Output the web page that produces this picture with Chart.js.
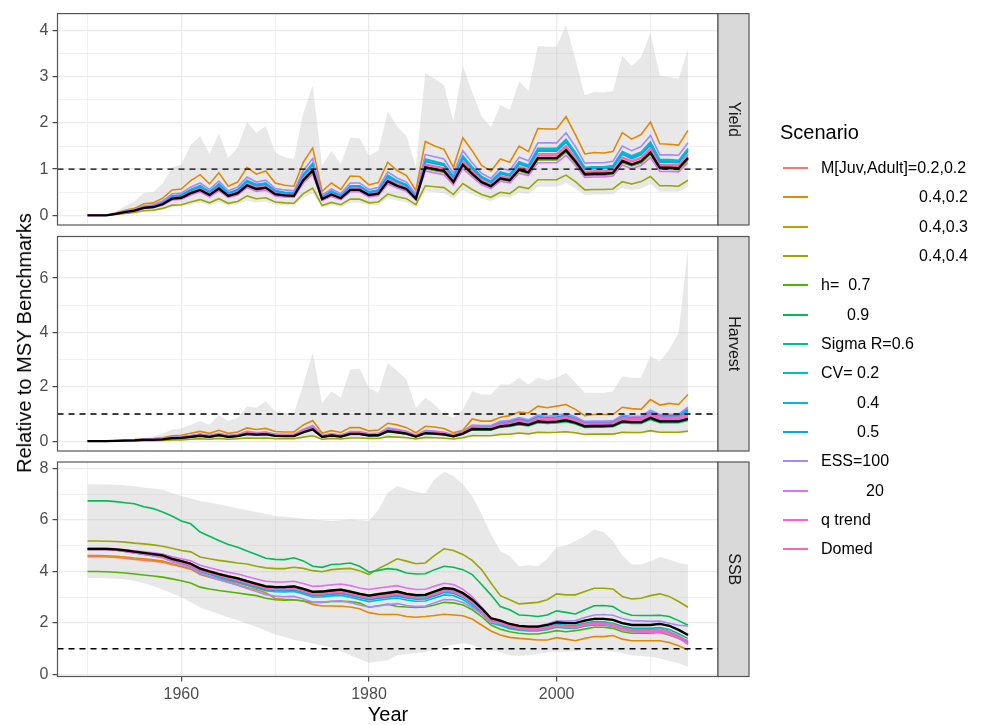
<!DOCTYPE html>
<html><head><meta charset="utf-8">
<script src="https://cdn.jsdelivr.net/npm/chart.js@4.4.1/dist/chart.umd.min.js"></script>
<style>
html,body{margin:0;padding:0;background:#fff;}
#wrap{position:relative;width:984px;height:725px;overflow:hidden;font-family:"Liberation Sans",Arial,Helvetica,sans-serif;}
canvas{position:absolute;left:0;top:0;}
.t{position:absolute;white-space:pre;line-height:1;color:#000;}
.k{position:absolute;height:2px;width:25px;left:783px;}
</style></head><body><div id="wrap">
<canvas id="cY" width="984" height="725"></canvas>
<canvas id="cH" width="984" height="725"></canvas>
<canvas id="cS" width="984" height="725"></canvas>
</div>
<script>
// ---------------- DATA ----------------
const years = Array.from({length: 65}, (_, i) => 1950 + i);
const benchmark = 1;
const xTickValues = [1950, 1960, 1970, 1980, 1990, 2000, 2010];
const xLabelValues = [1960, 1980, 2000];
const yieldTicks = [0, 0.5, 1, 1.5, 2, 2.5, 3, 3.5, 4];
const yieldLabels = [0, 1, 2, 3, 4];
const harvestTicks = [0, 1, 2, 3, 4, 5, 6, 7];
const harvestLabels = [0, 2, 4, 6];
const ssbTicks = [0, 1, 2, 3, 4, 5, 6, 7, 8];
const ssbLabels = [0, 2, 4, 6, 8];
const panelNames = ['Yield', 'Harvest', 'SSB'];
const scenarioLabels = ['M[Juv,Adult]=0.2,0.2', '0.4,0.2', '0.4,0.3', '0.4,0.4', 'h=  0.7', '0.9', 'Sigma R=0.6', 'CV= 0.2', '0.4', '0.5', 'ESS=100', '20', 'q trend', 'Domed'];

// Yield
const yieldLow = [0,0,0,0.01,0.03,0.05,0.08,0.09,0.12,0.18,0.19,0.24,0.27,0.22,0.29,0.21,0.24,0.32,0.28,0.3,0.23,0.21,0.21,0.38,0.48,0.17,0.22,0.18,0.27,0.27,0.22,0.23,0.37,0.32,0.28,0.18,0.52,0.5,0.48,0.36,0.55,0.45,0.36,0.31,0.4,0.38,0.49,0.46,0.62,0.62,0.62,0.7,0.58,0.44,0.45,0.45,0.46,0.59,0.55,0.58,0.68,0.51,0.51,0.51,0.62];
const yieldHigh = [0,0,0.01,0.08,0.2,0.3,0.49,0.5,0.69,1.04,1.1,1.52,1.72,1.33,1.77,1.24,1.47,2.02,1.79,1.93,1.36,1.26,1.22,2.21,2.82,1.08,1.4,1.11,1.68,1.67,1.29,1.4,2.25,1.93,1.72,1.04,3.08,2.96,2.82,2.04,3.24,2.67,2.14,1.9,2.39,2.28,2.9,2.7,3.67,3.65,3.65,4.13,3.38,2.6,2.67,2.66,2.69,3.45,3.24,3.42,3.95,3.03,2.99,2.96,3.6];
const yieldBase = [0,0,0,0.03,0.07,0.1,0.16,0.18,0.24,0.36,0.38,0.48,0.55,0.44,0.58,0.42,0.48,0.65,0.57,0.6,0.46,0.43,0.42,0.76,0.97,0.35,0.45,0.37,0.55,0.55,0.44,0.47,0.74,0.64,0.57,0.36,1.04,1,0.96,0.72,1.1,0.9,0.72,0.63,0.8,0.76,0.99,0.93,1.24,1.24,1.24,1.41,1.17,0.89,0.9,0.9,0.92,1.18,1.1,1.17,1.36,1.03,1.03,1.02,1.24];
const yieldM22 = [0,0,0,0.03,0.07,0.11,0.17,0.19,0.26,0.39,0.41,0.51,0.59,0.47,0.62,0.45,0.51,0.7,0.61,0.64,0.49,0.46,0.45,0.81,1.04,0.37,0.48,0.4,0.59,0.59,0.47,0.5,0.79,0.68,0.61,0.39,1.11,1.07,1.03,0.77,1.18,0.96,0.77,0.67,0.86,0.81,1.06,1,1.33,1.33,1.33,1.51,1.25,0.95,0.96,0.96,0.98,1.26,1.18,1.25,1.46,1.1,1.1,1.09,1.33];
const yieldM42 = [0,0,0,0.05,0.11,0.15,0.25,0.27,0.37,0.55,0.57,0.75,0.88,0.68,0.92,0.63,0.72,1.04,0.89,0.96,0.7,0.65,0.63,1.15,1.46,0.52,0.7,0.56,0.85,0.84,0.66,0.71,1.15,0.97,0.86,0.54,1.6,1.5,1.43,1.04,1.68,1.4,1.08,0.96,1.22,1.15,1.5,1.38,1.88,1.87,1.87,2.14,1.75,1.33,1.36,1.35,1.38,1.79,1.65,1.75,2.02,1.55,1.54,1.52,1.84];
const yieldM43 = [0,0,0,0.03,0.07,0.1,0.16,0.18,0.24,0.35,0.37,0.47,0.54,0.43,0.57,0.41,0.47,0.64,0.56,0.59,0.45,0.42,0.41,0.74,0.95,0.34,0.44,0.36,0.54,0.54,0.43,0.46,0.73,0.63,0.56,0.35,1.02,0.98,0.94,0.71,1.08,0.88,0.71,0.62,0.78,0.74,0.97,0.91,1.22,1.22,1.22,1.38,1.15,0.87,0.88,0.88,0.9,1.16,1.08,1.15,1.33,1.01,1.01,1,1.22];
const yieldM44 = [0,0,0,0.02,0.04,0.06,0.1,0.11,0.15,0.22,0.23,0.29,0.34,0.27,0.36,0.26,0.3,0.42,0.36,0.38,0.29,0.27,0.26,0.47,0.59,0.21,0.28,0.23,0.35,0.35,0.27,0.29,0.46,0.4,0.36,0.23,0.64,0.62,0.6,0.45,0.69,0.56,0.45,0.39,0.5,0.47,0.62,0.58,0.77,0.77,0.77,0.87,0.73,0.55,0.56,0.56,0.57,0.73,0.68,0.73,0.84,0.64,0.64,0.63,0.76];
const yieldH07 = [0,0,0,0.03,0.07,0.1,0.16,0.17,0.23,0.35,0.37,0.47,0.53,0.43,0.56,0.41,0.47,0.63,0.55,0.58,0.45,0.42,0.41,0.74,0.94,0.34,0.44,0.36,0.53,0.53,0.43,0.46,0.72,0.62,0.55,0.35,1.01,0.97,0.93,0.7,1.07,0.87,0.7,0.61,0.78,0.74,0.96,0.9,1.2,1.2,1.2,1.37,1.13,0.86,0.87,0.87,0.89,1.14,1.07,1.13,1.32,1,1,0.99,1.2];
const yieldH09 = [0,0,0,0.03,0.07,0.1,0.16,0.18,0.24,0.36,0.38,0.48,0.54,0.44,0.57,0.42,0.48,0.64,0.56,0.59,0.46,0.43,0.42,0.75,0.96,0.35,0.45,0.37,0.54,0.54,0.44,0.47,0.73,0.63,0.56,0.36,1.03,0.99,0.95,0.71,1.09,0.89,0.71,0.62,0.79,0.75,0.98,0.92,1.23,1.23,1.23,1.4,1.16,0.88,0.89,0.89,0.91,1.17,1.09,1.16,1.35,1.02,1.02,1.01,1.23];
const yieldSigR = [0,0,0,0.03,0.08,0.12,0.18,0.21,0.28,0.41,0.44,0.55,0.63,0.51,0.67,0.48,0.55,0.75,0.66,0.69,0.53,0.49,0.48,0.87,1.12,0.4,0.52,0.43,0.63,0.63,0.51,0.54,0.85,0.74,0.66,0.41,1.2,1.15,1.1,0.83,1.27,1.04,0.83,0.72,0.92,0.87,1.14,1.07,1.43,1.43,1.43,1.62,1.35,1.02,1.04,1.04,1.06,1.36,1.27,1.35,1.56,1.18,1.18,1.17,1.43];
const yieldCV02 = [0,0,0,0.04,0.08,0.12,0.19,0.21,0.28,0.42,0.44,0.56,0.64,0.51,0.68,0.49,0.56,0.76,0.67,0.7,0.54,0.5,0.49,0.89,1.13,0.41,0.53,0.43,0.64,0.64,0.51,0.55,0.87,0.75,0.67,0.42,1.22,1.17,1.12,0.84,1.29,1.05,0.84,0.74,0.94,0.89,1.16,1.09,1.45,1.45,1.45,1.65,1.37,1.04,1.05,1.05,1.08,1.38,1.29,1.37,1.59,1.21,1.21,1.19,1.45];
const yieldCV04 = [0,0,0,0.03,0.08,0.11,0.18,0.21,0.27,0.41,0.43,0.55,0.63,0.5,0.66,0.48,0.55,0.74,0.65,0.68,0.52,0.49,0.48,0.87,1.11,0.4,0.51,0.42,0.63,0.63,0.5,0.54,0.84,0.73,0.65,0.41,1.19,1.14,1.09,0.82,1.25,1.03,0.82,0.72,0.91,0.87,1.13,1.06,1.41,1.41,1.41,1.61,1.33,1.01,1.03,1.03,1.05,1.35,1.25,1.33,1.55,1.17,1.17,1.16,1.41];
const yieldCV05 = [0,0,0,0.03,0.08,0.11,0.18,0.2,0.27,0.4,0.43,0.54,0.62,0.49,0.65,0.47,0.54,0.73,0.64,0.67,0.52,0.48,0.47,0.85,1.09,0.39,0.5,0.41,0.62,0.62,0.49,0.53,0.83,0.72,0.64,0.4,1.16,1.12,1.08,0.81,1.23,1.01,0.81,0.71,0.9,0.85,1.11,1.04,1.39,1.39,1.39,1.58,1.31,1,1.01,1.01,1.03,1.32,1.23,1.31,1.52,1.15,1.15,1.14,1.39];
const yieldESS100 = [0,0,0,0.04,0.09,0.13,0.2,0.23,0.31,0.46,0.48,0.61,0.7,0.56,0.74,0.53,0.61,0.83,0.72,0.76,0.58,0.55,0.53,0.97,1.23,0.44,0.57,0.47,0.7,0.7,0.56,0.6,0.94,0.81,0.72,0.46,1.32,1.27,1.22,0.91,1.4,1.14,0.91,0.8,1.02,0.97,1.26,1.18,1.57,1.57,1.57,1.79,1.49,1.13,1.14,1.14,1.17,1.5,1.4,1.49,1.73,1.31,1.31,1.3,1.57];
const yieldESS20 = [0,0,0,0.03,0.06,0.09,0.15,0.17,0.22,0.33,0.35,0.44,0.51,0.4,0.53,0.39,0.44,0.6,0.52,0.55,0.42,0.4,0.39,0.7,0.89,0.32,0.41,0.34,0.51,0.51,0.4,0.43,0.68,0.59,0.52,0.33,0.96,0.92,0.88,0.66,1.01,0.83,0.66,0.58,0.74,0.7,0.91,0.86,1.14,1.14,1.14,1.3,1.08,0.82,0.83,0.83,0.85,1.09,1.01,1.08,1.25,0.95,0.95,0.94,1.14];
const yieldQtrend = [0,0,0,0.03,0.07,0.1,0.16,0.18,0.24,0.37,0.39,0.49,0.56,0.45,0.59,0.43,0.49,0.66,0.58,0.61,0.47,0.44,0.43,0.78,0.99,0.36,0.46,0.38,0.56,0.56,0.45,0.48,0.75,0.65,0.58,0.37,1.06,1.02,0.98,0.73,1.12,0.92,0.73,0.64,0.82,0.78,1.01,0.95,1.26,1.26,1.26,1.44,1.19,0.91,0.92,0.92,0.94,1.2,1.12,1.19,1.39,1.05,1.05,1.04,1.26];
const yieldDomed = [0,0,0,0.03,0.07,0.1,0.17,0.19,0.25,0.38,0.4,0.5,0.58,0.46,0.61,0.44,0.5,0.68,0.6,0.63,0.48,0.45,0.44,0.8,1.02,0.37,0.47,0.39,0.58,0.58,0.46,0.49,0.78,0.67,0.6,0.38,1.09,1.05,1.01,0.76,1.16,0.95,0.76,0.66,0.84,0.8,1.04,0.98,1.3,1.3,1.3,1.48,1.23,0.93,0.95,0.95,0.97,1.24,1.16,1.23,1.43,1.08,1.08,1.07,1.3];

// Harvest
const harvestLow = [0,0,0,0,0.01,0.01,0.02,0.02,0.03,0.04,0.05,0.06,0.08,0.06,0.09,0.06,0.08,0.11,0.1,0.1,0.08,0.08,0.08,0.13,0.18,0.06,0.08,0.07,0.11,0.11,0.08,0.09,0.15,0.13,0.11,0.07,0.12,0.11,0.1,0.07,0.11,0.18,0.18,0.18,0.22,0.23,0.26,0.24,0.29,0.28,0.29,0.31,0.27,0.22,0.22,0.22,0.23,0.29,0.28,0.28,0.34,0.29,0.29,0.29,0.33];
const harvestHigh = [0,0,0.01,0.03,0.06,0.09,0.13,0.17,0.27,0.43,0.47,0.61,0.74,0.61,0.96,0.74,0.86,1.29,1.23,1.47,1.1,1.04,1.04,2.09,3.25,1.41,1.84,1.6,2.64,2.67,1.96,1.78,2.88,2.58,2.27,1.23,1.6,1.35,0.98,0.86,1.17,1.84,1.72,1.72,2.09,2.09,2.33,2.09,2.33,2.23,2.33,2.52,2.15,1.78,1.78,1.78,1.84,2.39,2.33,2.33,3.13,2.94,3.37,3.99,7.12];
const harvestBase = [0,0,0,0.01,0.02,0.03,0.05,0.05,0.07,0.11,0.12,0.16,0.2,0.16,0.22,0.16,0.19,0.27,0.24,0.26,0.2,0.19,0.19,0.33,0.44,0.16,0.21,0.17,0.27,0.27,0.21,0.22,0.37,0.33,0.28,0.17,0.3,0.28,0.25,0.18,0.28,0.45,0.44,0.44,0.55,0.58,0.66,0.6,0.73,0.7,0.72,0.77,0.68,0.55,0.56,0.56,0.57,0.73,0.7,0.7,0.86,0.73,0.73,0.73,0.82];
const harvestM22 = [0,0,0,0.01,0.02,0.03,0.06,0.06,0.08,0.13,0.14,0.18,0.23,0.18,0.25,0.18,0.22,0.31,0.28,0.3,0.23,0.22,0.22,0.38,0.51,0.18,0.24,0.2,0.31,0.31,0.24,0.25,0.43,0.38,0.32,0.2,0.35,0.32,0.29,0.21,0.32,0.52,0.51,0.51,0.63,0.67,0.76,0.69,0.84,0.81,0.83,0.89,0.78,0.63,0.64,0.64,0.66,0.84,0.81,0.81,0.99,0.86,0.87,0.87,0.98];
const harvestM42 = [0,0,0,0.02,0.04,0.06,0.09,0.1,0.13,0.2,0.22,0.29,0.36,0.29,0.4,0.29,0.34,0.49,0.43,0.47,0.36,0.34,0.34,0.6,0.76,0.3,0.39,0.32,0.5,0.5,0.38,0.41,0.66,0.6,0.5,0.31,0.55,0.52,0.47,0.31,0.4,0.82,0.74,0.74,0.88,0.94,1.07,1.04,1.29,1.23,1.29,1.35,1.17,0.94,0.98,0.98,0.98,1.25,1.2,1.17,1.53,1.33,1.39,1.35,1.72];
const harvestM43 = [0,0,0,0.01,0.02,0.03,0.05,0.05,0.07,0.11,0.12,0.16,0.2,0.16,0.22,0.16,0.19,0.28,0.24,0.27,0.2,0.19,0.19,0.34,0.45,0.16,0.21,0.17,0.28,0.28,0.21,0.22,0.38,0.34,0.29,0.17,0.31,0.29,0.26,0.18,0.29,0.46,0.45,0.45,0.56,0.59,0.67,0.61,0.74,0.71,0.73,0.79,0.69,0.56,0.57,0.57,0.58,0.74,0.71,0.71,0.88,0.74,0.74,0.74,0.84];
const harvestM44 = [0,0,0,0,0.01,0.01,0.02,0.02,0.03,0.05,0.05,0.07,0.09,0.07,0.1,0.07,0.09,0.12,0.11,0.12,0.09,0.09,0.09,0.15,0.2,0.07,0.1,0.08,0.12,0.12,0.1,0.1,0.17,0.15,0.13,0.08,0.14,0.13,0.11,0.08,0.13,0.21,0.2,0.2,0.25,0.26,0.3,0.27,0.33,0.32,0.33,0.35,0.31,0.25,0.26,0.26,0.26,0.33,0.32,0.32,0.39,0.33,0.33,0.33,0.37];
const harvestH07 = [0,0,0,0.01,0.02,0.03,0.05,0.05,0.08,0.12,0.13,0.17,0.22,0.17,0.24,0.17,0.21,0.29,0.26,0.28,0.22,0.21,0.21,0.36,0.48,0.17,0.23,0.18,0.29,0.29,0.23,0.24,0.4,0.36,0.3,0.18,0.32,0.3,0.27,0.19,0.3,0.49,0.48,0.48,0.59,0.63,0.71,0.65,0.79,0.76,0.78,0.83,0.73,0.59,0.6,0.6,0.62,0.79,0.76,0.76,0.93,0.79,0.79,0.79,0.89];
const harvestH09 = [0,0,0,0.01,0.02,0.03,0.05,0.05,0.07,0.1,0.11,0.15,0.19,0.15,0.2,0.15,0.18,0.25,0.22,0.24,0.19,0.18,0.18,0.31,0.41,0.15,0.2,0.16,0.25,0.25,0.2,0.2,0.34,0.31,0.26,0.16,0.28,0.26,0.23,0.17,0.26,0.42,0.41,0.41,0.51,0.54,0.61,0.56,0.68,0.65,0.67,0.72,0.63,0.51,0.52,0.52,0.53,0.68,0.65,0.65,0.8,0.68,0.68,0.68,0.76];
const harvestSigR = [0,0,0,0.01,0.02,0.04,0.06,0.06,0.08,0.13,0.14,0.19,0.24,0.19,0.26,0.19,0.22,0.32,0.28,0.31,0.24,0.22,0.22,0.39,0.52,0.19,0.25,0.2,0.32,0.32,0.25,0.26,0.44,0.39,0.33,0.2,0.35,0.33,0.3,0.21,0.33,0.53,0.52,0.52,0.65,0.68,0.78,0.71,0.86,0.83,0.85,0.91,0.8,0.65,0.66,0.66,0.67,0.86,0.83,0.83,1.01,0.88,0.89,0.9,1.08];
const harvestCV02 = [0,0,0,0.01,0.02,0.04,0.06,0.06,0.09,0.13,0.15,0.2,0.24,0.2,0.27,0.2,0.23,0.33,0.29,0.32,0.24,0.23,0.23,0.4,0.54,0.2,0.26,0.21,0.33,0.33,0.26,0.27,0.45,0.4,0.34,0.21,0.37,0.34,0.31,0.22,0.34,0.55,0.54,0.54,0.67,0.71,0.81,0.73,0.89,0.85,0.88,0.94,0.83,0.67,0.68,0.68,0.7,0.89,0.85,0.85,1.05,0.9,0.91,0.92,1.15];
const harvestCV04 = [0,0,0,0.01,0.02,0.04,0.06,0.06,0.08,0.13,0.14,0.19,0.24,0.19,0.26,0.19,0.23,0.32,0.29,0.31,0.24,0.23,0.23,0.4,0.53,0.19,0.25,0.2,0.32,0.32,0.25,0.26,0.44,0.4,0.34,0.2,0.36,0.34,0.3,0.22,0.34,0.54,0.53,0.53,0.66,0.7,0.79,0.72,0.88,0.84,0.86,0.92,0.82,0.66,0.67,0.67,0.68,0.88,0.84,0.84,1.03,0.89,0.9,0.91,1.12];
const harvestCV05 = [0,0,0,0.01,0.02,0.04,0.06,0.06,0.09,0.14,0.15,0.2,0.25,0.2,0.27,0.2,0.24,0.33,0.3,0.32,0.25,0.24,0.24,0.41,0.55,0.2,0.26,0.21,0.33,0.33,0.26,0.27,0.46,0.41,0.35,0.21,0.37,0.35,0.31,0.22,0.35,0.56,0.55,0.55,0.68,0.72,0.82,0.74,0.91,0.87,0.89,0.95,0.84,0.68,0.69,0.69,0.71,0.91,0.87,0.87,1.07,0.93,0.95,0.96,1.2];
const harvestESS100 = [0,0,0,0.01,0.03,0.04,0.07,0.07,0.09,0.15,0.16,0.21,0.26,0.21,0.29,0.21,0.25,0.36,0.32,0.34,0.26,0.25,0.25,0.44,0.58,0.21,0.28,0.22,0.36,0.36,0.28,0.29,0.49,0.44,0.37,0.22,0.4,0.37,0.33,0.24,0.37,0.59,0.58,0.58,0.73,0.77,0.87,0.79,0.96,0.92,0.95,1.02,0.9,0.73,0.74,0.74,0.75,0.96,0.92,0.92,1.14,0.98,0.99,1,1.25];
const harvestESS20 = [0,0,0,0.01,0.02,0.03,0.05,0.05,0.07,0.12,0.13,0.17,0.21,0.17,0.23,0.17,0.2,0.28,0.25,0.27,0.21,0.2,0.2,0.35,0.46,0.17,0.22,0.18,0.28,0.28,0.22,0.23,0.39,0.35,0.29,0.18,0.32,0.29,0.26,0.19,0.29,0.47,0.46,0.46,0.58,0.61,0.69,0.63,0.77,0.74,0.76,0.81,0.71,0.58,0.59,0.59,0.6,0.77,0.74,0.74,0.9,0.77,0.77,0.77,0.88];
const harvestQtrend = [0,0,0,0.01,0.02,0.03,0.06,0.06,0.08,0.12,0.13,0.18,0.22,0.18,0.24,0.18,0.21,0.3,0.26,0.29,0.22,0.21,0.21,0.36,0.48,0.18,0.23,0.19,0.3,0.3,0.23,0.24,0.41,0.36,0.31,0.19,0.33,0.31,0.28,0.2,0.31,0.5,0.48,0.48,0.61,0.64,0.73,0.66,0.8,0.77,0.79,0.85,0.75,0.61,0.62,0.62,0.63,0.8,0.77,0.77,0.95,0.82,0.83,0.83,0.95];
const harvestDomed = [0,0,0,0.01,0.02,0.04,0.06,0.06,0.08,0.13,0.14,0.19,0.23,0.19,0.26,0.19,0.22,0.32,0.28,0.3,0.23,0.22,0.22,0.39,0.51,0.19,0.25,0.2,0.32,0.32,0.25,0.26,0.43,0.39,0.33,0.2,0.35,0.33,0.29,0.21,0.33,0.53,0.51,0.51,0.64,0.68,0.77,0.7,0.85,0.82,0.84,0.9,0.8,0.64,0.66,0.66,0.67,0.86,0.83,0.84,1.02,0.88,0.88,0.88,1.02];

// SSB
const ssbLow = [3.75,3.75,3.74,3.72,3.7,3.63,3.55,3.43,3.3,3.15,3,2.8,2.6,2.47,2.35,2.22,2.1,1.97,1.85,1.7,1.55,1.45,1.35,1.28,1.2,1.12,1.05,0.9,0.75,0.6,0.45,0.5,0.55,0.75,0.78,0.82,0.88,0.95,1.08,1.15,1.21,1.14,1.01,0.95,0.88,0.75,0.72,0.75,0.79,0.85,0.88,0.88,0.9,0.95,0.95,0.92,0.88,0.82,0.75,0.72,0.69,0.62,0.52,0.43,0.3];
const ssbHigh = [7.39,7.39,7.38,7.37,7.35,7.31,7.26,7.22,7.17,7.05,6.93,6.84,6.74,6.68,6.61,6.53,6.44,6.38,6.31,6.23,6.15,6.12,6.09,6.05,6.02,5.99,5.96,5.99,6.02,5.99,5.96,6.41,7.06,7.32,7.19,7.09,7.04,7.58,7.87,7.71,7.39,6.93,6.22,5.44,4.79,4.59,4.2,4.24,4.2,4.49,4.95,5.01,5.18,5.37,5.63,5.53,5.18,4.62,4.27,4.27,4.4,4.56,4.46,4.33,4.27];
const ssbBase = [4.88,4.88,4.88,4.86,4.82,4.77,4.72,4.67,4.62,4.49,4.4,4.3,4.11,4,3.9,3.81,3.73,3.62,3.52,3.42,3.39,3.39,3.42,3.32,3.21,3.22,3.26,3.29,3.22,3.13,3.06,3.12,3.17,3.22,3.13,3.08,3.09,3.22,3.35,3.32,3.16,2.9,2.57,2.18,2.09,1.96,1.89,1.86,1.86,1.92,2.02,1.99,1.99,2.09,2.16,2.16,2.12,1.99,1.92,1.92,1.92,1.96,1.89,1.73,1.53];
const ssbM22 = [4.57,4.57,4.56,4.54,4.51,4.47,4.44,4.4,4.36,4.27,4.18,4.09,3.9,3.8,3.71,3.63,3.55,3.46,3.38,3.29,3.26,3.25,3.27,3.18,3.07,3.08,3.12,3.15,3.09,3,2.93,2.99,3.04,3.08,3,2.95,2.96,3.08,3.2,3.18,3.03,2.79,2.47,2.1,1.99,1.85,1.77,1.74,1.73,1.78,1.87,1.83,1.82,1.9,1.96,1.95,1.9,1.77,1.7,1.69,1.68,1.7,1.62,1.46,1.27];
const ssbM42 = [4.62,4.62,4.61,4.59,4.56,4.52,4.49,4.45,4.4,4.3,4.2,4.1,3.88,3.78,3.68,3.58,3.48,3.38,3.29,3.17,2.95,2.92,2.9,2.85,2.72,2.66,2.66,2.65,2.62,2.55,2.4,2.34,2.33,2.33,2.25,2.22,2.25,2.29,2.34,2.31,2.28,2.15,1.92,1.69,1.53,1.44,1.4,1.37,1.34,1.34,1.43,1.37,1.31,1.4,1.47,1.47,1.51,1.37,1.31,1.31,1.31,1.31,1.24,1.11,0.95];
const ssbM43 = [4.9,4.9,4.9,4.88,4.84,4.79,4.74,4.69,4.64,4.51,4.42,4.32,4.13,4.02,3.92,3.83,3.75,3.64,3.54,3.44,3.41,3.41,3.44,3.34,3.23,3.24,3.28,3.31,3.24,3.15,3.08,3.14,3.19,3.24,3.15,3.1,3.11,3.24,3.37,3.34,3.18,2.92,2.59,2.2,2.1,1.97,1.9,1.87,1.87,1.93,2.03,2,2,2.1,2.17,2.17,2.13,2,1.93,1.93,1.93,1.97,1.9,1.74,1.54];
const ssbM44 = [5.18,5.18,5.17,5.16,5.14,5.1,5.07,5.03,4.98,4.9,4.81,4.76,4.56,4.49,4.43,4.38,4.33,4.29,4.2,4.14,4.11,4.11,4.16,4.12,4.03,3.99,4.07,4.1,4.12,4.03,3.88,4.11,4.29,4.49,4.4,4.3,4.33,4.62,4.88,4.81,4.66,4.43,4.07,3.55,3.06,2.9,2.74,2.77,2.8,2.9,3.13,3.09,3.09,3.22,3.35,3.35,3.32,3.03,2.93,2.96,3.06,3.13,3.03,2.83,2.61];
const ssbH07 = [4,4,3.99,3.97,3.94,3.9,3.86,3.82,3.78,3.71,3.64,3.55,3.39,3.32,3.26,3.21,3.16,3.11,3.06,2.96,2.9,2.88,2.9,2.85,2.8,2.8,2.83,2.84,2.83,2.77,2.61,2.67,2.73,2.64,2.62,2.6,2.62,2.7,2.8,2.78,2.7,2.51,2.25,1.92,1.76,1.66,1.6,1.57,1.57,1.63,1.7,1.66,1.7,1.76,1.83,1.83,1.79,1.66,1.6,1.6,1.6,1.63,1.53,1.4,1.31];
const ssbH09 = [6.74,6.74,6.74,6.71,6.67,6.63,6.51,6.44,6.31,6.15,5.96,5.85,5.53,5.37,5.2,5.05,4.94,4.79,4.66,4.51,4.47,4.46,4.53,4.41,4.2,4.16,4.27,4.29,4.33,4.2,3.97,4.04,4.11,4.07,3.94,3.9,3.91,4.07,4.2,4.16,4.07,3.88,3.49,3.09,2.64,2.51,2.31,2.29,2.25,2.31,2.47,2.41,2.35,2.51,2.67,2.68,2.64,2.41,2.3,2.29,2.29,2.3,2.25,2.09,1.91];
const ssbSigR = [4.87,4.87,4.87,4.85,4.81,4.76,4.71,4.66,4.6,4.47,4.38,4.28,4.08,3.97,3.87,3.78,3.7,3.59,3.49,3.39,3.35,3.35,3.38,3.28,3.17,3.18,3.22,3.25,3.18,3.09,3.02,3.08,3.13,3.18,3.09,3.04,3.05,3.18,3.31,3.28,3.12,2.86,2.52,2.13,2.03,1.9,1.82,1.79,1.79,1.84,1.94,1.91,1.9,1.99,2.05,2.04,1.99,1.87,1.8,1.79,1.79,1.82,1.74,1.58,1.4];
const ssbCV02 = [4.85,4.85,4.85,4.83,4.79,4.73,4.67,4.61,4.55,4.41,4.31,4.2,3.99,3.88,3.77,3.67,3.58,3.46,3.36,3.25,3.21,3.2,3.22,3.12,3.01,3.01,3.05,3.07,3,2.91,2.83,2.88,2.93,2.97,2.89,2.84,2.85,2.97,3.09,3.06,2.91,2.67,2.36,2,1.9,1.78,1.72,1.69,1.69,1.74,1.83,1.8,1.79,1.87,1.92,1.91,1.86,1.74,1.67,1.66,1.65,1.67,1.58,1.42,1.2];
const ssbCV04 = [4.86,4.86,4.86,4.84,4.8,4.75,4.69,4.64,4.58,4.45,4.35,4.25,4.05,3.94,3.84,3.74,3.66,3.55,3.45,3.35,3.31,3.31,3.33,3.24,3.13,3.14,3.18,3.21,3.14,3.05,2.98,3.04,3.09,3.14,3.05,3,3.01,3.14,3.27,3.24,3.08,2.82,2.49,2.11,2.01,1.88,1.81,1.78,1.77,1.83,1.92,1.89,1.88,1.96,2.02,2.01,1.96,1.83,1.76,1.75,1.74,1.76,1.66,1.48,1.24];
const ssbCV05 = [4.85,4.85,4.85,4.83,4.78,4.73,4.67,4.62,4.56,4.42,4.32,4.22,4.02,3.91,3.8,3.71,3.62,3.51,3.41,3.3,3.26,3.26,3.28,3.18,3.07,3.08,3.12,3.14,3.07,2.98,2.9,2.95,3,3.05,2.97,2.92,2.93,3.05,3.18,3.15,3,2.75,2.43,2.06,1.96,1.83,1.77,1.74,1.73,1.78,1.87,1.84,1.83,1.91,1.97,1.96,1.91,1.78,1.71,1.7,1.69,1.71,1.62,1.44,1.18];
const ssbESS100 = [4.86,4.86,4.85,4.83,4.78,4.72,4.66,4.6,4.53,4.38,4.27,4.15,3.93,3.8,3.68,3.57,3.46,3.34,3.22,3.1,3.04,3.02,3.03,2.93,2.81,2.81,2.84,2.86,2.79,2.7,2.62,2.66,2.71,2.75,2.68,2.64,2.66,2.78,2.91,2.9,2.79,2.6,2.35,2.04,1.98,1.9,1.86,1.86,1.88,1.96,2.08,2.07,2.09,2.21,2.31,2.33,2.3,2.17,2.09,2.08,2.06,2.07,1.99,1.91,1.88];
const ssbESS20 = [4.88,4.88,4.88,4.87,4.84,4.8,4.76,4.72,4.68,4.57,4.49,4.41,4.24,4.14,4.05,3.97,3.9,3.8,3.71,3.62,3.59,3.59,3.62,3.53,3.42,3.44,3.48,3.51,3.45,3.36,3.3,3.36,3.4,3.45,3.36,3.3,3.31,3.43,3.54,3.49,3.31,3.01,2.62,2.2,2.07,1.92,1.83,1.79,1.78,1.82,1.9,1.85,1.84,1.92,1.97,1.95,1.9,1.77,1.7,1.69,1.68,1.7,1.6,1.42,1.17];
const ssbQtrend = [4.86,4.86,4.86,4.84,4.8,4.75,4.7,4.64,4.58,4.45,4.35,4.25,4.05,3.94,3.84,3.75,3.66,3.55,3.45,3.35,3.31,3.31,3.34,3.24,3.13,3.14,3.18,3.21,3.14,3.05,2.98,3.04,3.09,3.13,3.05,2.99,3,3.13,3.25,3.22,3.06,2.81,2.49,2.11,2,1.86,1.78,1.74,1.73,1.78,1.87,1.83,1.82,1.9,1.95,1.93,1.88,1.75,1.67,1.65,1.63,1.65,1.56,1.4,1.2];
const ssbDomed = [4.84,4.84,4.84,4.82,4.78,4.73,4.68,4.63,4.57,4.44,4.34,4.24,4.04,3.93,3.83,3.74,3.65,3.54,3.44,3.34,3.3,3.3,3.33,3.23,3.12,3.13,3.17,3.2,3.13,3.04,2.97,3.03,3.08,3.12,3.04,2.98,2.99,3.12,3.24,3.21,3.05,2.8,2.48,2.1,2,1.87,1.8,1.76,1.76,1.81,1.9,1.87,1.86,1.95,2,1.99,1.95,1.81,1.73,1.72,1.71,1.74,1.66,1.5,1.3];

// ---------------- STYLE ----------------
const FONT = '"Liberation Sans", Arial, Helvetica, sans-serif';
const scenarioColors = ['#F8766D','#E38900','#C49A00','#99A800','#53B400','#00BC56','#00C094','#00BFC4','#00B6EB','#06A4FF','#A58AFF','#DF70F8','#FB61D7','#FF66A8'];
const X_MIN = 1946.8, X_MAX = 2017.2;
const PLOT_LEFT = 57.5, PLOT_RIGHT = 718, STRIP_W = 31;

function pts(arr) { return arr.map((v, i) => ({x: years[i], y: v})); }

const decoPlugin = {
  id: 'deco',
  afterDatasetsDraw(chart, args, opts) {
    const {ctx, chartArea: a} = chart;
    const y = chart.scales.y;
    const py = y.getPixelForValue(benchmark);
    ctx.save();
    ctx.setLineDash([6, 5]);
    ctx.strokeStyle = '#000';
    ctx.lineWidth = 1.4;
    ctx.beginPath(); ctx.moveTo(a.left, py); ctx.lineTo(a.right, py); ctx.stroke();
    ctx.setLineDash([]);
    ctx.strokeStyle = '#555';
    ctx.lineWidth = 1.2;
    ctx.strokeRect(a.left, a.top, a.right - a.left, a.bottom - a.top);
    // strip
    ctx.fillStyle = '#D9D9D9';
    ctx.fillRect(a.right, a.top, STRIP_W, a.bottom - a.top);
    ctx.strokeRect(a.right, a.top, STRIP_W, a.bottom - a.top);
    ctx.translate(a.right + STRIP_W / 2, (a.top + a.bottom) / 2);
    ctx.rotate(Math.PI / 2);
    ctx.fillStyle = '#1A1A1A';
    ctx.font = '16px ' + FONT;
    ctx.textAlign = 'center';
    ctx.textBaseline = 'middle';
    ctx.fillText(opts.label, 0, 0);
    ctx.restore();
  }
};

function makePanel(id, top, bottom, ymin, ymax, yTicks, yLabels, low, high, base, series, showX, label) {
  const datasets = [];
  datasets.push({data: pts(base), borderColor: '#000', borderWidth: 2.3, pointRadius: 0, fill: false});
  for (let k = series.length - 1; k >= 0; k--) {
    datasets.push({data: pts(series[k]), borderColor: scenarioColors[k], borderWidth: 1.6, pointRadius: 0, fill: false});
  }
  datasets.push({data: pts(low), borderWidth: 0, borderColor: 'rgba(0,0,0,0)', pointRadius: 0, fill: false});
  datasets.push({data: pts(high), borderWidth: 0, borderColor: 'rgba(0,0,0,0)', pointRadius: 0, fill: '-1', backgroundColor: 'rgba(190,190,190,0.36)'});
  const xH = showX ? 30 : 0;
  return new Chart(document.getElementById(id), {
    type: 'line',
    data: {datasets},
    plugins: [decoPlugin],
    options: {
      responsive: false, animation: false, devicePixelRatio: 1,
      events: [],
      layout: {padding: {left: 0, right: 984 - PLOT_RIGHT, top: top, bottom: 725 - bottom - xH}},
      elements: {line: {tension: 0}, point: {radius: 0}},
      plugins: {legend: {display: false}, tooltip: {enabled: false}, deco: {label: label}},
      scales: {
        x: {
          type: 'linear', min: X_MIN, max: X_MAX,
          afterBuildTicks: s => { s.ticks = xTickValues.map(v => ({value: v})); },
          afterFit: s => { s.height = xH; },
          border: {display: false},
          grid: {
            color: '#EBEBEB',
            lineWidth: c => (c.tick && xLabelValues.includes(c.tick.value)) ? 1.3 : 0.7,
            drawTicks: showX, tickLength: 5, tickWidth: 1.1,
            tickColor: c => (c.tick && xLabelValues.includes(c.tick.value)) ? '#333' : 'rgba(0,0,0,0)'
          },
          ticks: {
            display: showX, autoSkip: false, maxRotation: 0, padding: 3, color: '#4D4D4D',
            font: {family: FONT, size: 16},
            callback: v => xLabelValues.includes(v) ? String(v) : ''
          }
        },
        y: {
          min: ymin, max: ymax,
          afterBuildTicks: s => { s.ticks = yTicks.map(v => ({value: v})); },
          afterFit: s => { s.width = PLOT_LEFT; },
          border: {display: false},
          grid: {
            color: '#EBEBEB',
            lineWidth: c => (c.tick && yLabels.includes(c.tick.value)) ? 1.3 : 0.7,
            drawTicks: true, tickLength: 5, tickWidth: 1.1,
            tickColor: c => (c.tick && yLabels.includes(c.tick.value)) ? '#333' : 'rgba(0,0,0,0)'
          },
          ticks: {
            autoSkip: false, padding: 4, color: '#4D4D4D',
            font: {family: FONT, size: 16},
            callback: v => yLabels.includes(v) ? String(v) : ''
          }
        }
      }
    }
  });
}

makePanel('cY', 10, 225, -0.21, 4.37, yieldTicks, yieldLabels, yieldLow, yieldHigh, yieldBase,
  [yieldM22, yieldM42, yieldM43, yieldM44, yieldH07, yieldH09, yieldSigR, yieldCV02, yieldCV04, yieldCV05, yieldESS100, yieldESS20, yieldQtrend, yieldDomed], false, panelNames[0]);
makePanel('cH', 236.5, 451, -0.36, 7.53, harvestTicks, harvestLabels, harvestLow, harvestHigh, harvestBase,
  [harvestM22, harvestM42, harvestM43, harvestM44, harvestH07, harvestH09, harvestSigR, harvestCV02, harvestCV04, harvestCV05, harvestESS100, harvestESS20, harvestQtrend, harvestDomed], false, panelNames[1]);
makePanel('cS', 462, 676.5, -0.08, 8.25, ssbTicks, ssbLabels, ssbLow, ssbHigh, ssbBase,
  [ssbM22, ssbM42, ssbM43, ssbM44, ssbH07, ssbH09, ssbSigR, ssbCV02, ssbCV04, ssbCV05, ssbESS100, ssbESS20, ssbQtrend, ssbDomed], true, panelNames[2]);

// ---------------- TEXT: axis titles & legend ----------------
const wrap = document.getElementById('wrap');
function addText(txt, css) {
  const d = document.createElement('div');
  d.className = 't';
  d.textContent = txt;
  Object.assign(d.style, css);
  wrap.appendChild(d);
  return d;
}
addText('Relative to MSY Benchmarks', {left: '24px', top: '343px', fontSize: '20px', transform: 'translate(-50%,-50%) rotate(-90deg)'});
addText('Year', {left: '388px', top: '714px', fontSize: '20px', transform: 'translate(-50%,-50%)'});
addText('Scenario', {left: '780px', top: '132px', fontSize: '20px', transform: 'translateY(-50%)'});
const legendTextLeft = [821, null, null, null, 821, 847, 821, 821, 857, 857, 821, 866, 821, 821];
for (let k = 0; k < scenarioLabels.length; k++) {
  const cy = 168 + 29.33 * k;
  const key = document.createElement('div');
  key.className = 'k';
  key.style.top = Math.round(cy - 1) + 'px';
  key.style.background = scenarioColors[k];
  wrap.appendChild(key);
  const css = {top: cy + 'px', fontSize: '16px', transform: 'translateY(-50%)'};
  if (legendTextLeft[k] === null) { css.right = (984 - 968) + 'px'; css.textAlign = 'right'; }
  else css.left = legendTextLeft[k] + 'px';
  addText(scenarioLabels[k], css);
}
</script>
</body></html>
